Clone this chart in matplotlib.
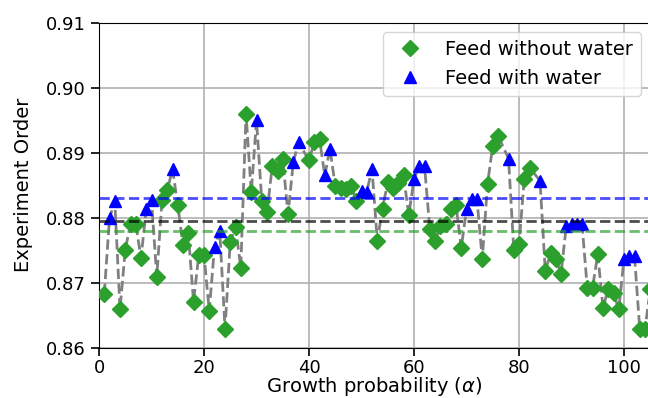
import numpy as np
import matplotlib
matplotlib.use('Agg')
import matplotlib.pyplot as plt

# growth probability index for each run, split by feed type
x_dry = [1, 4, 5, 6, 7, 8, 11, 12, 13, 15, 16, 17, 18, 19, 20, 21, 24, 25, 26, 27,
         28, 29, 31, 32, 33, 34, 35, 36, 40, 41, 42, 45, 46, 47, 48, 49, 53, 54, 55, 56,
         57, 58, 59, 63, 64, 65, 66, 67, 68, 69, 73, 74, 75, 76, 79, 80, 81, 82, 85, 86,
         87, 88, 93, 94, 95, 96, 97, 98, 99, 103, 104, 105]
y_dry = [0.8683, 0.8659, 0.8751, 0.8790, 0.8790, 0.8738, 0.8709, 0.8827, 0.8842, 0.8819,
         0.8758, 0.8777, 0.8671, 0.8742, 0.8742, 0.8657, 0.8629, 0.8763, 0.8785, 0.8723,
         0.8960, 0.8839, 0.8826, 0.8808, 0.8880, 0.8872, 0.8890, 0.8805, 0.8888, 0.8916,
         0.8921, 0.8848, 0.8846, 0.8844, 0.8849, 0.8826, 0.8764, 0.8814, 0.8855, 0.8846,
         0.8853, 0.8865, 0.8804, 0.8783, 0.8764, 0.8787, 0.8790, 0.8814, 0.8819, 0.8754,
         0.8736, 0.8852, 0.8911, 0.8926, 0.8751, 0.8759, 0.8859, 0.8877, 0.8718, 0.8745,
         0.8737, 0.8714, 0.8692, 0.8692, 0.8744, 0.8661, 0.8691, 0.8684, 0.8659, 0.8628,
         0.8629, 0.8690]

x_wet = [2, 3, 9, 10, 14, 22, 23, 30, 37, 38, 43, 44, 50, 51, 52, 60, 61, 62, 70, 71,
         72, 78, 84, 89, 90, 91, 92, 100, 101, 102]
y_wet = [0.8799, 0.8826, 0.8814, 0.8827, 0.8875, 0.8755, 0.8779, 0.8950, 0.8885, 0.8916,
         0.8865, 0.8906, 0.8841, 0.8840, 0.8875, 0.8859, 0.8880, 0.8880, 0.8813, 0.8828,
         0.8828, 0.8891, 0.8857, 0.8787, 0.8790, 0.8790, 0.8790, 0.8737, 0.8741, 0.8741]

mean_all = 0.8795
mean_wet = 0.8831
mean_dry = 0.8779

xticks = [0, 20, 40, 60, 80, 100]
yticks = [0.86, 0.87, 0.88, 0.89, 0.90, 0.91]

plt.rcParams['font.size'] = 13

fig = plt.figure(figsize=(6.48, 3.98), dpi=100)
ax = fig.add_axes([0.1528, 0.1264, 0.8507, 0.8166])

# all runs joined in order
x_all = np.array(x_dry + x_wet)
y_all = np.array(y_dry + y_wet)
order = np.argsort(x_all)
ax.plot(x_all[order], y_all[order], '--', color='gray', lw=2, zorder=2)

ax.plot(x_dry, y_dry, 'D', color='tab:green', ms=8, ls='none', label='Feed without water', zorder=3)
ax.plot(x_wet, y_wet, '^', color='blue', ms=9, ls='none', label='Feed with water', zorder=3)

ax.axhline(mean_wet, color='blue', ls='--', lw=2, alpha=0.7, zorder=4)
ax.axhline(mean_all, color='black', ls='--', lw=2, alpha=0.7, zorder=4)
ax.axhline(mean_dry, color='tab:green', ls='--', lw=2, alpha=0.7, zorder=4)

ax.set_xlim(0, 105)
ax.set_ylim(0.86, 0.91)
ax.set_xticks(xticks)
ax.set_yticks(yticks)
ax.set_yticklabels(['%.2f' % v for v in yticks])
ax.tick_params(length=6, width=1.2)
ax.tick_params(axis='x', pad=2)
ax.grid(True, color='#b0b0b0', lw=1.2)
ax.set_axisbelow(True)
ax.set_xlabel(r'Growth probability ($\alpha$)', fontsize=14, labelpad=-1)
ax.set_ylabel('Experiment Order', fontsize=14, labelpad=9)
ax.legend(loc='upper right', fontsize=14)

fig.savefig('out.png', dpi=100)
